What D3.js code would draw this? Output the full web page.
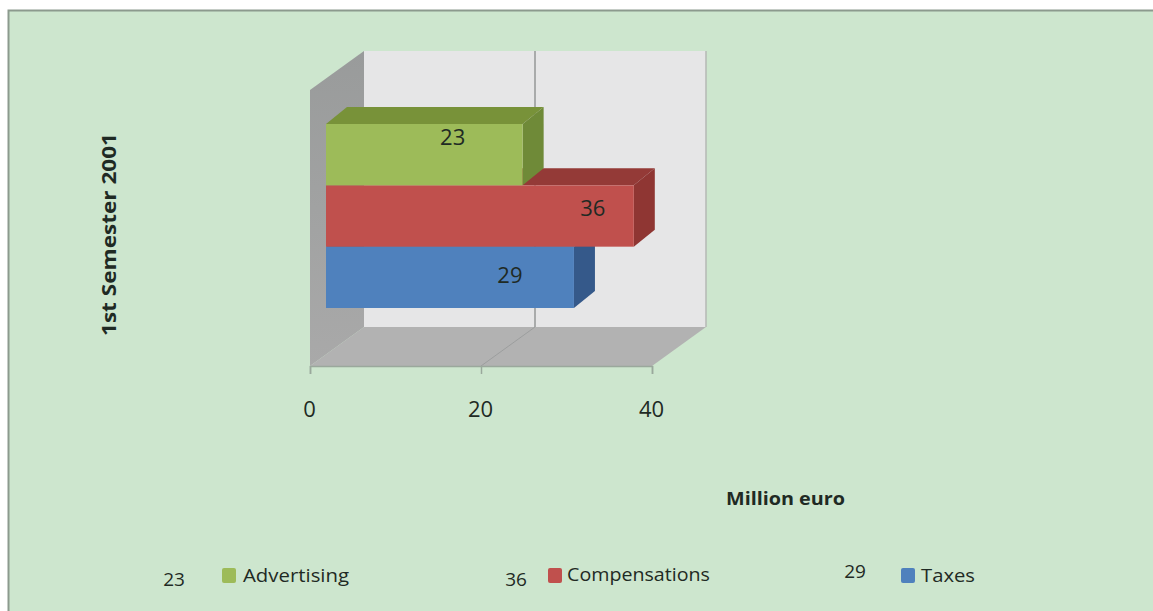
<!DOCTYPE html>
<html>
<head>
<meta charset="utf-8">
<script src="https://cdnjs.cloudflare.com/ajax/libs/d3/7.8.5/d3.min.js"></script>
<style>
  html, body { margin: 0; padding: 0; background: #fff; }
  svg { display: block; }
  text { font-family: "Open Sans", sans-serif; fill: #1f2a24; }
</style>
</head>
<body>
<svg id="chart" width="1153" height="611"></svg>
<script>
// Expenses for the first half of 2001, in million euro
const categories = ["Advertising", "Compensations", "Taxes"];
const values = [23, 36, 29];
const fills = ["#9dbb59", "#c0504d", "#4f81bd"];
const topFills = ["#789239", "#943a37", "#3a6190"];
const sideFills = ["#6f8a38", "#8f3633", "#35598a"];
const xTicks = [0, 20, 40];
const periodLabel = "1st Semester 2001";
const unitLabel = "Million euro";

const svg = d3.select("#chart");
const width = 1153, height = 611;

// Panel
svg.append("rect").attr("x", 8.5).attr("y", 10.5)
  .attr("width", width).attr("height", height)
  .attr("fill", "#cde6ce").attr("stroke", "#8c9a8e").attr("stroke-width", 2);

// Scales: value runs along the front floor edge, categories stack down the bars' face
const x = d3.scaleLinear().domain([0, 40]).range([310, 652]);
const y = d3.scaleBand().domain(categories).range([124, 308]).paddingInner(0);

// Oblique projection used for the box depth
const wallDepth = { dx: 54, dy: -39 };
const barOffset = { dx: 16, dy: 0 };
const barDepth = { dx: 21, dy: -17 };
const floorY = 366, wallTopFront = 90;
const poly = pts => pts.map(p => p.join(",")).join(" ");

const walls = svg.append("g");
const x0 = x(0), x1 = x(40);
const backTop = wallTopFront + wallDepth.dy, backBottom = floorY + wallDepth.dy;

// Back wall
walls.append("polygon")
  .attr("points", poly([[x0 + wallDepth.dx, backTop], [x1 + wallDepth.dx, backTop],
                        [x1 + wallDepth.dx, backBottom], [x0 + wallDepth.dx, backBottom]]))
  .attr("fill", "#e6e6e7");
walls.append("line")
  .attr("x1", x1 + wallDepth.dx).attr("x2", x1 + wallDepth.dx)
  .attr("y1", backTop).attr("y2", backBottom)
  .attr("stroke", "#b4b8b4").attr("stroke-width", 1.5);
// Side wall
const sideGrad = svg.append("defs").append("linearGradient")
  .attr("id", "sideWall").attr("x1", 0).attr("x2", 0).attr("y1", 0).attr("y2", 1);
sideGrad.append("stop").attr("offset", 0).attr("stop-color", "#999b9b");
sideGrad.append("stop").attr("offset", 1).attr("stop-color", "#a9a9a9");
walls.append("polygon")
  .attr("points", poly([[x0, wallTopFront], [x0 + wallDepth.dx, backTop],
                        [x0 + wallDepth.dx, backBottom], [x0, floorY]]))
  .attr("fill", "url(#sideWall)");
// Floor
walls.append("polygon")
  .attr("points", poly([[x0, floorY], [x0 + wallDepth.dx, backBottom],
                        [x1 + wallDepth.dx, backBottom], [x1, floorY]]))
  .attr("fill", "#b2b2b2");

// Gridlines on the floor and back wall
const inner = xTicks.filter(t => t > 0 && t < 40);
walls.selectAll("line.grid-wall").data(inner).join("line")
  .attr("class", "grid-wall")
  .attr("x1", d => x(d) + wallDepth.dx).attr("x2", d => x(d) + wallDepth.dx)
  .attr("y1", backTop).attr("y2", backBottom)
  .attr("stroke", "#a9abab").attr("stroke-width", 2);
walls.selectAll("line.grid-floor").data(inner).join("line")
  .attr("class", "grid-floor")
  .attr("x1", d => x(d)).attr("x2", d => x(d) + wallDepth.dx)
  .attr("y1", floorY).attr("y2", backBottom)
  .attr("stroke", "#9c9e9e").attr("stroke-width", 1);

// Value axis
const axis = d3.axisBottom(x).tickValues(xTicks).tickSize(8).tickPadding(27).tickFormat(d3.format("d"));
const axisG = svg.append("g").attr("transform", `translate(0,${floorY})`).call(axis);
axisG.select(".domain").attr("stroke", "#9aa89c").attr("stroke-width", 1.5);
axisG.selectAll(".tick line").attr("stroke", "#9aa89c").attr("stroke-width", 1.5);
axisG.selectAll(".tick text")
  .attr("font-size", 22).style("font-family", '"Open Sans", sans-serif')
  .attr("fill", "#1f2a24").attr("dx", -1);

// 3-D bars
const rows = categories.map((c, i) => ({ c, v: values[i], fill: fills[i], top: topFills[i], side: sideFills[i] }));
const barLeft = x0 + barOffset.dx;
const barEnd = d => barLeft + (x(d.v) - x0);

const bars = svg.append("g");
// Paint the lowest bar first so the upper ones overlap its top face
const barG = bars.selectAll("g.bar").data(rows.slice().reverse()).join("g").attr("class", "bar");
barG.append("polygon")
  .attr("points", d => poly([[barLeft, y(d.c)], [barLeft + barDepth.dx, y(d.c) + barDepth.dy],
                             [barEnd(d) + barDepth.dx, y(d.c) + barDepth.dy], [barEnd(d), y(d.c)]]))
  .attr("fill", d => d.top);
barG.append("polygon")
  .attr("points", d => poly([[barEnd(d), y(d.c)], [barEnd(d) + barDepth.dx, y(d.c) + barDepth.dy],
                             [barEnd(d) + barDepth.dx, y(d.c) + y.bandwidth() + barDepth.dy],
                             [barEnd(d), y(d.c) + y.bandwidth()]]))
  .attr("fill", d => d.side);
barG.append("rect")
  .attr("x", barLeft).attr("y", d => y(d.c))
  .attr("width", d => barEnd(d) - barLeft).attr("height", y.bandwidth())
  .attr("fill", d => d.fill);

// Value labels sit a little inside the end of each bar
const labelInset = { Advertising: 70, Compensations: 41, Taxes: 64 };
const labelRise = { Advertising: 40, Compensations: 31, Taxes: 25 };
bars.selectAll("text.val").data(rows).join("text")
  .attr("class", "val")
  .attr("x", d => barEnd(d) - labelInset[d.c])
  .attr("y", d => y(d.c) + y.bandwidth() - labelRise[d.c])
  .attr("text-anchor", "middle")
  .attr("font-size", 22)
  .text(d => d.v);

// Axis titles
svg.append("text")
  .attr("transform", "translate(108,234.5) rotate(-90)")
  .attr("text-anchor", "middle").attr("dominant-baseline", "central")
  .attr("font-size", 20).attr("font-weight", 700)
  .attr("textLength", 203).attr("lengthAdjust", "spacingAndGlyphs")
  .text(periodLabel);
svg.append("text")
  .attr("x", 785.5).attr("y", 505).attr("text-anchor", "middle")
  .attr("font-size", 18).attr("font-weight", 700)
  .attr("textLength", 119).attr("lengthAdjust", "spacingAndGlyphs")
  .text(unitLabel);

// Legend, each entry carrying its value on the left
const legendAt = {
  Advertising: { num: 174, numY: 586, sw: 222, lab: 243, labY: 582, len: 106 },
  Compensations: { num: 516, numY: 586, sw: 548, lab: 567, labY: 581, len: 143 },
  Taxes: { num: 855, numY: 578, sw: 901, lab: 921, labY: 582, len: 54 }
};
const legend = svg.selectAll("g.legend").data(rows).join("g").attr("class", "legend");
legend.append("text")
  .attr("x", d => legendAt[d.c].num).attr("y", d => legendAt[d.c].numY)
  .attr("text-anchor", "middle").attr("font-size", 19)
  .text(d => d.v);
legend.append("rect")
  .attr("x", d => legendAt[d.c].sw).attr("y", 568)
  .attr("width", 14).attr("height", 15).attr("rx", 2)
  .attr("fill", d => d.fill);
legend.append("text")
  .attr("x", d => legendAt[d.c].lab).attr("y", d => legendAt[d.c].labY)
  .attr("font-size", 19)
  .attr("textLength", d => legendAt[d.c].len).attr("lengthAdjust", "spacingAndGlyphs")
  .text(d => d.c);
</script>
</body>
</html>
